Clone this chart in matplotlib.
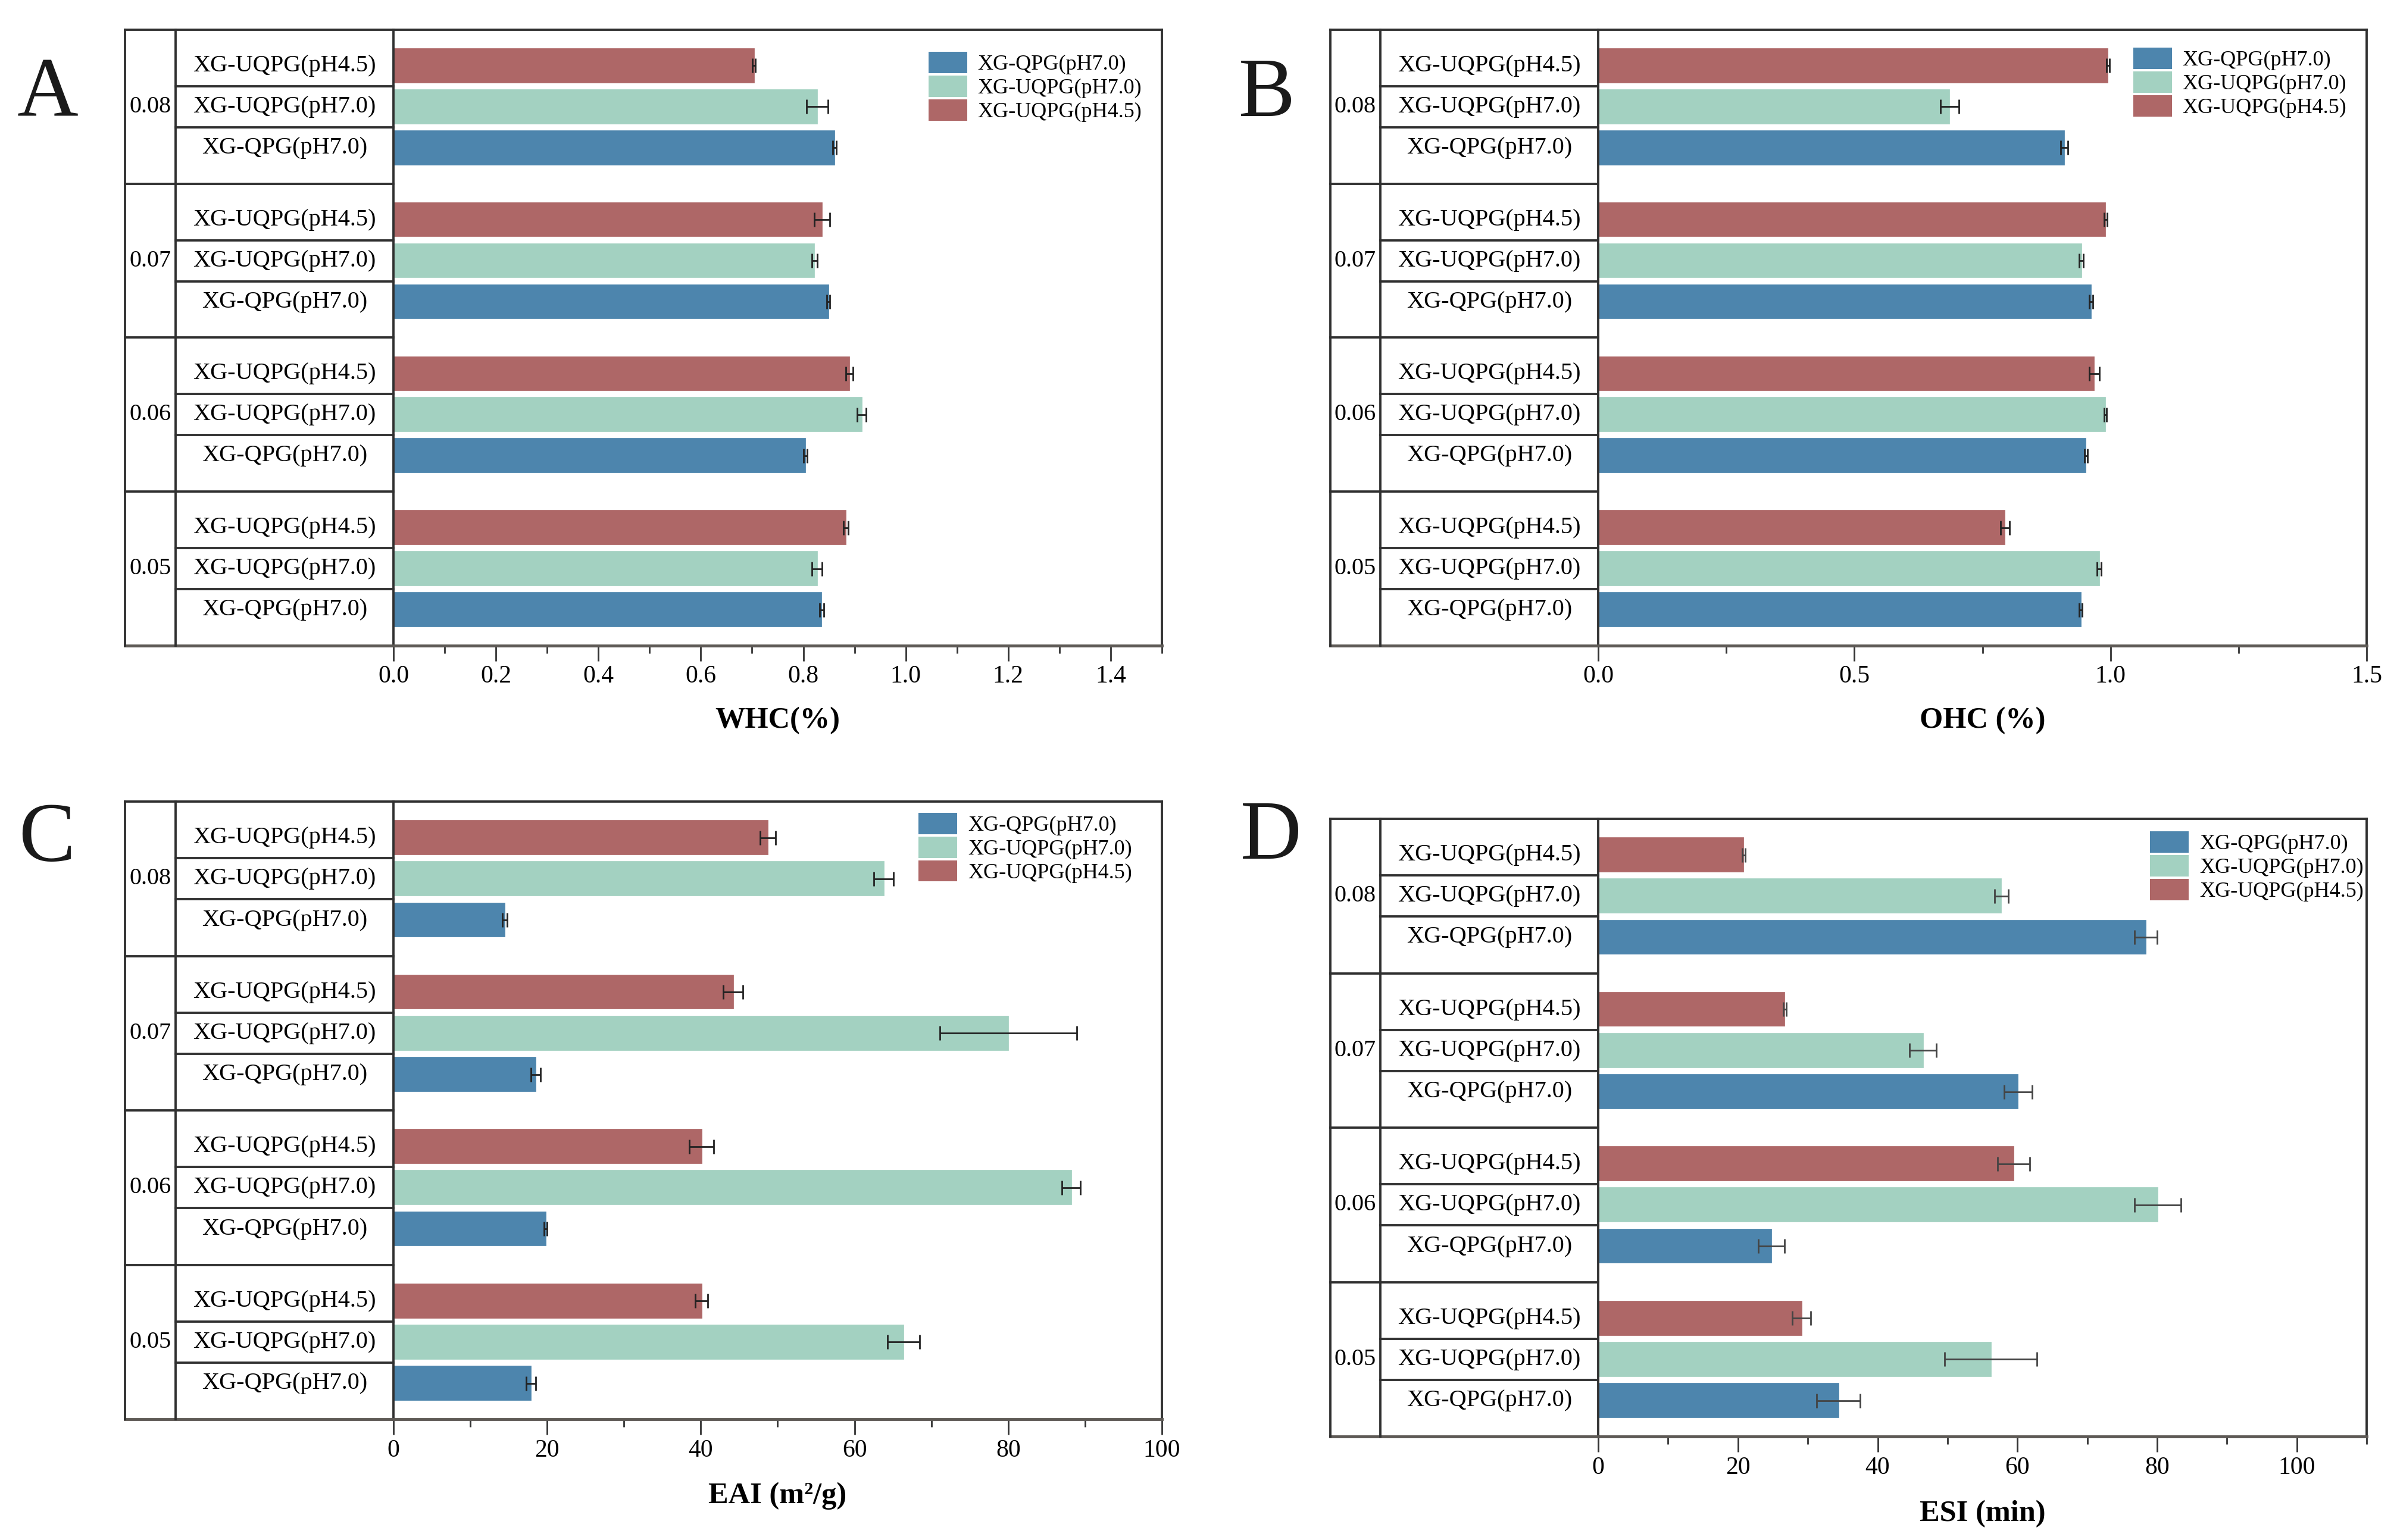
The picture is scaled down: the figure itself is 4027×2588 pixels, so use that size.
import numpy as np
import matplotlib
matplotlib.use('Agg')
import matplotlib.pyplot as plt
import matplotlib.transforms as mtrans
from matplotlib.patches import Patch
from matplotlib.ticker import MultipleLocator, FormatStrFormatter

plt.rcParams['font.family'] = ['Liberation Serif', 'DejaVu Serif']

# concentrations, bottom to top
groups = ['0.05', '0.06', '0.07', '0.08']
samples = ['XG-QPG(pH7.0)', 'XG-UQPG(pH7.0)', 'XG-UQPG(pH4.5)']
colors = ['#4D85AD', '#A3D1C1', '#AE6767']

# WHC (%)
whc_qpg = [0.836, 0.804, 0.849, 0.861]
whc_uqpg7 = [0.827, 0.914, 0.822, 0.827]
whc_uqpg45 = [0.883, 0.890, 0.837, 0.704]
whc_qpg_err = [0.004, 0.003, 0.003, 0.003]
whc_uqpg7_err = [0.010, 0.009, 0.005, 0.021]
whc_uqpg45_err = [0.005, 0.007, 0.015, 0.003]

# OHC (%)
ohc_qpg = [0.942, 0.952, 0.962, 0.910]
ohc_uqpg7 = [0.978, 0.990, 0.943, 0.686]
ohc_uqpg45 = [0.794, 0.968, 0.990, 0.995]
ohc_qpg_err = [0.003, 0.003, 0.004, 0.007]
ohc_uqpg7_err = [0.004, 0.002, 0.004, 0.018]
ohc_uqpg45_err = [0.009, 0.010, 0.003, 0.003]

# EAI (m2/g)
eai_qpg = [17.9, 19.8, 18.5, 14.5]
eai_uqpg7 = [66.4, 88.2, 80.0, 63.8]
eai_uqpg45 = [40.1, 40.1, 44.2, 48.7]
eai_qpg_err = [0.6, 0.2, 0.6, 0.3]
eai_uqpg7_err = [2.1, 1.2, 8.9, 1.3]
eai_uqpg45_err = [0.8, 1.6, 1.3, 1.0]

# ESI (min)
esi_qpg = [34.4, 24.8, 60.1, 78.4]
esi_uqpg7 = [56.2, 80.1, 46.5, 57.7]
esi_uqpg45 = [29.1, 59.5, 26.7, 20.8]
esi_qpg_err = [3.1, 1.9, 2.0, 1.6]
esi_uqpg7_err = [6.6, 3.3, 1.9, 1.0]
esi_uqpg45_err = [1.3, 2.3, 0.2, 0.2]

GH = 3.75      # height of one concentration block
FR = '#303030'


def panel(rect, series, errs, xmax, lastlab, major, minor, fmt, xlabel, lab_y, leg_anchor, ecol):
    ax = fig.add_axes(rect)
    for s in range(3):
        ys = [GH * g + 0.875 + s for g in range(4)]
        ax.barh(ys, series[s], height=0.82, color=colors[s], edgecolor=colors[s], lw=0.5, zorder=2)
        ax.errorbar(series[s], ys, xerr=errs[s], fmt='none', ecolor=ecol,
                    elinewidth=0.8, capsize=3.5, capthick=0.8, zorder=3)
    ax.set_yticks([])
    ax.set_xticks(np.arange(0, lastlab + major / 2, major))
    ax.xaxis.set_minor_locator(MultipleLocator(minor))
    ax.xaxis.set_major_formatter(FormatStrFormatter(fmt))
    ax.tick_params(axis='x', which='major', direction='out', length=7.5, width=0.8,
                   labelsize=12, pad=2, color='#333333')
    ax.tick_params(axis='x', which='minor', direction='out', length=3.8, width=0.8, color='#333333')
    for sp in ax.spines.values():
        sp.set_color(FR)
        sp.set_linewidth(1.1)
    ax.spines['bottom'].set_color('#5e5a56')
    ax.spines['bottom'].set_linewidth(1.4)

    # label table on the left
    x0, x1 = -0.349, -0.2835
    tr = mtrans.blended_transform_factory(ax.transAxes, ax.transData)
    kw = dict(transform=ax.transAxes, clip_on=False, color=FR, lw=1.1)
    ax.plot([x0, 0], [1, 1], **kw)
    ax.plot([x0, 0], [0, 0], color='#5e5a56', lw=1.4, transform=ax.transAxes, clip_on=False)
    ax.plot([x0, x0], [0, 1], **kw)
    ax.plot([x1, x1], [0, 1], **kw)
    kw['transform'] = tr
    for g in range(4):
        if g > 0:
            ax.plot([x0, 0], [GH * g, GH * g], **kw)
        for k in (1.375, 2.375):
            ax.plot([x1, 0], [GH * g + k, GH * g + k], **kw)
        ax.text((x0 + x1) / 2, GH * g + 1.875, groups[g], transform=tr,
                ha='center', va='center', fontsize=11.6)
        for s in range(3):
            ax.text(x1 / 2, GH * g + 0.875 + s, samples[s], transform=tr,
                    ha='center', va='center', fontsize=11.6)
    ax.set_xlim(0, xmax)
    ax.set_ylim(0, 4 * GH)

    ax.text(0.5, lab_y, xlabel, transform=ax.transAxes, ha='center', va='center',
            fontsize=14.5, fontweight='bold')
    handles = [Patch(facecolor=c, edgecolor='none') for c in colors]
    ax.legend(handles, samples, loc='upper left', bbox_to_anchor=leg_anchor, frameon=False,
              fontsize=10.4, handlelength=1.8, handleheight=1.15, labelspacing=0.05,
              handletextpad=0.5, borderpad=0, borderaxespad=0)
    return ax


fig = plt.figure(figsize=(16.112, 10.352), dpi=250)

panel([0.1641, 0.5808, 0.3205, 0.3999],
      [whc_qpg, whc_uqpg7, whc_uqpg45], [whc_qpg_err, whc_uqpg7_err, whc_uqpg45_err],
      1.5, 1.4, 0.2, 0.1, '%.1f', 'WHC(%)', -0.122, (0.696, 0.964), '#222222')
panel([0.6666, 0.5808, 0.3205, 0.3999],
      [ohc_qpg, ohc_uqpg7, ohc_uqpg45], [ohc_qpg_err, ohc_uqpg7_err, ohc_uqpg45_err],
      1.5, 1.5, 0.5, 0.25, '%.1f', 'OHC (%)', -0.122, (0.696, 0.971), '#222222')
panel([0.1641, 0.0784, 0.3205, 0.4011],
      [eai_qpg, eai_uqpg7, eai_uqpg45], [eai_qpg_err, eai_uqpg7_err, eai_uqpg45_err],
      100, 100, 20, 10, '%d', 'EAI (m²/g)', -0.124, (0.683, 0.982), '#222222')
panel([0.6666, 0.0672, 0.3205, 0.4011],
      [esi_qpg, esi_uqpg7, esi_uqpg45], [esi_qpg_err, esi_uqpg7_err, esi_uqpg45_err],
      110, 100, 20, 10, '%d', 'ESI (min)', -0.125, (0.718, 0.980), '#444444')

for lx, ly, t in [(0.0198, 0.9247, 'A'), (0.5285, 0.9247, 'B'),
                  (0.0194, 0.4409, 'C'), (0.5300, 0.4424, 'D')]:
    fig.text(lx, ly, t, ha='center', va='baseline', fontsize=41, color='#1a1a1a')

fig.savefig('out.png', dpi=250)
plt.close(fig)
